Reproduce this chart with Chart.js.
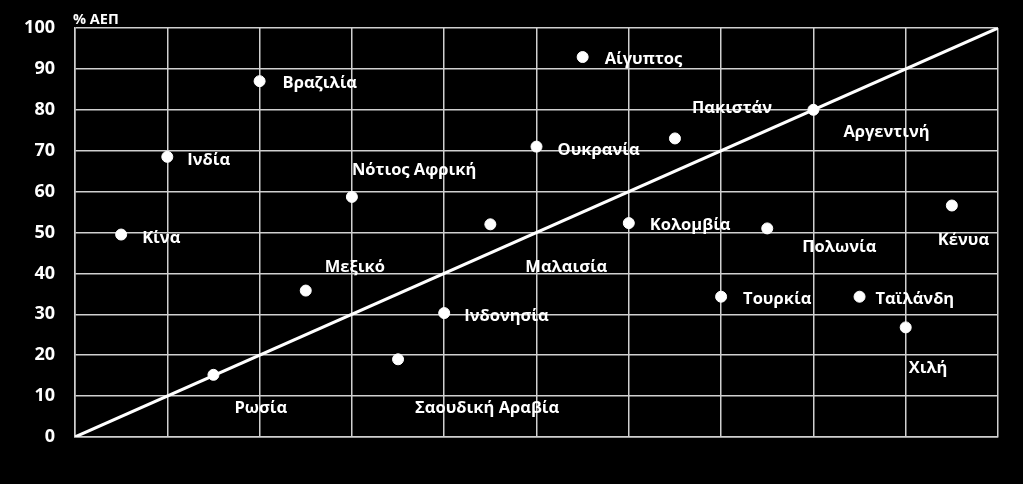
<!DOCTYPE html>
<html>
<head>
<meta charset="utf-8">
<script src="https://cdn.jsdelivr.net/npm/chart.js@4"></script>
<style>
  html, body { margin: 0; padding: 0; background: #000; }
  #wrap { width: 1023px; height: 484px; }
</style>
</head>
<body>
<div id="wrap"><canvas id="scatter"></canvas></div>
<script>
// data
const countries = ['Κίνα', 'Ινδία', 'Ρωσία', 'Βραζιλία', 'Μεξικό', 'Νότιος Αφρική',
    'Σαουδική Αραβία', 'Ινδονησία', 'Μαλαισία', 'Ουκρανία', 'Αίγυπτος', 'Κολομβία',
    'Πακιστάν', 'Τουρκία', 'Πολωνία', 'Αργεντινή', 'Ταϊλάνδη', 'Χιλή', 'Κένυα'];
const positions = [1, 2, 3, 4, 5, 6, 7, 8, 9, 10, 11, 12, 13, 14, 15, 16, 17, 18, 19];
const values = [49.5, 68.5, 15.2, 87, 35.8, 58.7, 19, 30.3, 52, 71, 92.9, 52.3,
    73, 34.3, 51, 80, 34.3, 26.8, 56.6];
const lineX = [0, 20];
const lineY = [0, 100];
const yTicks = [0, 10, 20, 30, 40, 50, 60, 70, 80, 90, 100];

// label offsets from each dot, in pixels
const labelOffsets = [
    [21, 4], [20, 3], [21, 33], [23, 2], [19, -23], [0, -27],
    [17, 49], [20, 3], [35, 43], [21, 4], [22, 2], [21, 2],
    [17, -30], [22, 3], [35, 19], [30, 22], [16, 3], [3, 41], [-14, 35]
];

const FONT = '"Open Sans", sans-serif';

//plugin
const labels = {
    id: 'country_labels',
    afterDatasetsDraw: (chart) => {
        const ctx = chart.ctx;
        const meta = chart.getDatasetMeta(1);
        ctx.save();
        ctx.fillStyle = '#fff';
        ctx.font = 'bold 16.5px ' + FONT;
        ctx.textAlign = 'left';
        ctx.textBaseline = 'middle';
        meta.data.forEach((pt, i) => {
            ctx.fillText(countries[i], pt.x + labelOffsets[i][0], pt.y + labelOffsets[i][1]);
        });
        ctx.font = 'bold 14.5px ' + FONT;
        ctx.fillText('% ΑΕΠ', chart.chartArea.left - 2, chart.chartArea.top - 8);
        ctx.restore();
    }
};

//config
const config = {
    type: 'scatter',
    data: {
        datasets: [{
            type: 'line',
            data: lineX.map((x, i) => ({ x: x, y: lineY[i] })),
            borderColor: '#fff',
            borderWidth: 3,
            pointRadius: 0,
            fill: false
        }, {
            data: positions.map((x, i) => ({ x: x, y: values[i] })),
            backgroundColor: '#fff',
            borderColor: '#fff',
            pointRadius: 5.5
        }]
    },
    options: {
        responsive: true,
        maintainAspectRatio: false,
        animation: false,
        layout: { padding: { top: 28, right: 25, bottom: 47, left: 0 } },
        plugins: { legend: { display: false }, tooltip: { enabled: false } },
        scales: {
            x: {
                type: 'linear',
                min: 0,
                max: 20,
                ticks: { display: false, stepSize: 2 },
                grid: { color: '#d0d0d0', lineWidth: 1.5, drawTicks: false },
                border: { color: '#d0d0d0', width: 1.5 },
                afterFit: (s) => { s.height = 0; }
            },
            y: {
                min: 0,
                max: 100,
                afterBuildTicks: (s) => { s.ticks = yTicks.map(v => ({ value: v })); },
                ticks: { color: '#fff', font: { family: FONT, size: 18, weight: 'bold' }, padding: 20 },
                grid: { color: '#d0d0d0', lineWidth: 1.5, drawTicks: false },
                border: { color: '#d0d0d0', width: 1.5 },
                afterFit: (s) => { s.width = 75; s.paddingTop = 0; s.paddingBottom = 0; }
            }
        }
    },
    plugins: [labels]
};

//render init
const sc = new Chart(document.getElementById('scatter'), config);
</script>
</body>
</html>
